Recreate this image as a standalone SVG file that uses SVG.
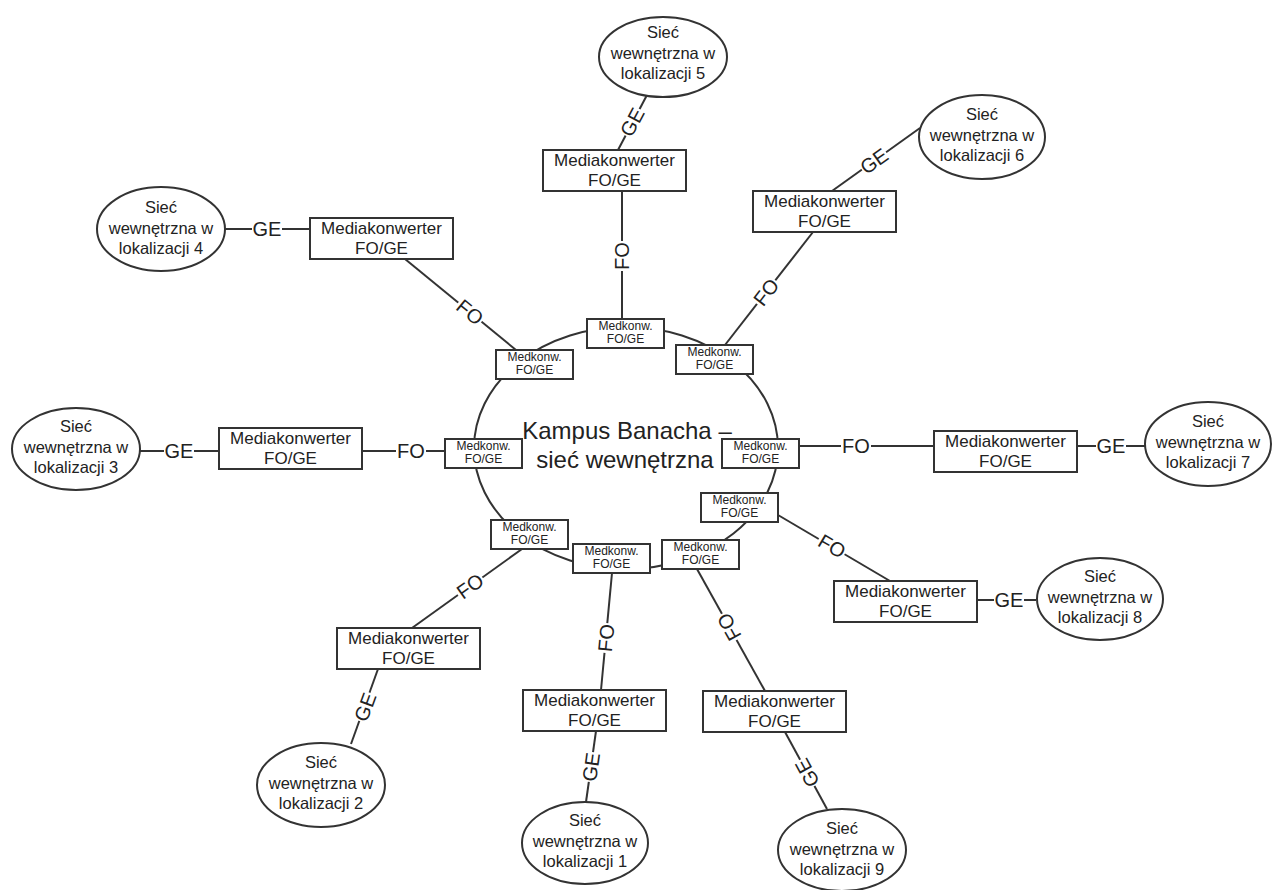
<svg xmlns="http://www.w3.org/2000/svg" width="1273" height="890" viewBox="0 0 1273 890">
<style>
.ln{stroke:#333;stroke-width:2;fill:none}
.box{fill:#fff;stroke:#333;stroke-width:2}
.ell{fill:#fff;stroke:#333;stroke-width:2}
.t{font-family:"Liberation Sans",Arial,sans-serif;fill:#222;text-anchor:middle}
.e{font-size:16.5px}
.m{font-size:17px}
.s{font-size:12px}
.c{font-size:24px}
.l{font-size:20px}
.bg{fill:#fff}
</style>
<rect width="1273" height="890" fill="#fff"/>

<g id="connectors">
<line class="ln" x1="225" y1="229" x2="310" y2="229"/>
<line class="ln" x1="405" y1="259" x2="516" y2="350"/>
<line class="ln" x1="140" y1="451" x2="219" y2="451"/>
<line class="ln" x1="362" y1="451" x2="445" y2="451"/>
<line class="ln" x1="622" y1="191" x2="622" y2="319"/>
<line class="ln" x1="647" y1="95" x2="618" y2="150"/>
<line class="ln" x1="832" y1="191" x2="920" y2="128"/>
<line class="ln" x1="813" y1="232" x2="725" y2="345"/>
<line class="ln" x1="800" y1="446" x2="934" y2="446"/>
<line class="ln" x1="1077" y1="446" x2="1145" y2="446"/>
<line class="ln" x1="778" y1="515" x2="890" y2="581"/>
<line class="ln" x1="977" y1="600" x2="1036" y2="600"/>
<line class="ln" x1="522" y1="549" x2="412" y2="628"/>
<line class="ln" x1="378" y1="669" x2="351" y2="744"/>
<line class="ln" x1="612" y1="573" x2="601" y2="690"/>
<line class="ln" x1="596" y1="731" x2="586" y2="802"/>
<line class="ln" x1="697" y1="569" x2="765" y2="691"/>
<line class="ln" x1="785" y1="732" x2="827" y2="809"/>
<g id="labels">
<g transform="translate(267,229)"><rect class="bg" x="-15" y="-6" width="30" height="12"/><text class="t l" y="7.2">GE</text></g>
<g transform="translate(470,312) rotate(39.5)"><rect class="bg" x="-15" y="-6" width="30" height="12"/><text class="t l" y="7.2">FO</text></g>
<g transform="translate(179,451)"><rect class="bg" x="-15" y="-6" width="30" height="12"/><text class="t l" y="7.2">GE</text></g>
<g transform="translate(411,451)"><rect class="bg" x="-15" y="-6" width="30" height="12"/><text class="t l" y="7.2">FO</text></g>
<g transform="translate(622,256) rotate(-90)"><rect class="bg" x="-15" y="-6" width="30" height="12"/><text class="t l" y="7.2">FO</text></g>
<g transform="translate(632,122) rotate(-62)"><rect class="bg" x="-15" y="-6" width="30" height="12"/><text class="t l" y="7.2">GE</text></g>
<g transform="translate(874,161) rotate(-35.6)"><rect class="bg" x="-15" y="-6" width="30" height="12"/><text class="t l" y="7.2">GE</text></g>
<g transform="translate(766,292) rotate(-52.6)"><rect class="bg" x="-15" y="-6" width="30" height="12"/><text class="t l" y="7.2">FO</text></g>
<g transform="translate(856,446)"><rect class="bg" x="-15" y="-6" width="30" height="12"/><text class="t l" y="7.2">FO</text></g>
<g transform="translate(1111,446)"><rect class="bg" x="-15" y="-6" width="30" height="12"/><text class="t l" y="7.2">GE</text></g>
<g transform="translate(832,546) rotate(30.5)"><rect class="bg" x="-15" y="-6" width="30" height="12"/><text class="t l" y="7.2">FO</text></g>
<g transform="translate(1009,600)"><rect class="bg" x="-15" y="-6" width="30" height="12"/><text class="t l" y="7.2">GE</text></g>
<g transform="translate(470,586) rotate(-35.7)"><rect class="bg" x="-15" y="-6" width="30" height="12"/><text class="t l" y="7.2">FO</text></g>
<g transform="translate(365,707) rotate(-70)"><rect class="bg" x="-15" y="-6" width="30" height="12"/><text class="t l" y="7.2">GE</text></g>
<g transform="translate(606,638) rotate(-84.6)"><rect class="bg" x="-15" y="-6" width="30" height="12"/><text class="t l" y="7.2">FO</text></g>
<g transform="translate(591,767) rotate(-82)"><rect class="bg" x="-15" y="-6" width="30" height="12"/><text class="t l" y="7.2">GE</text></g>
<g transform="translate(729,627) rotate(-119)"><rect class="bg" x="-15" y="-6" width="30" height="12"/><text class="t l" y="7.2">FO</text></g>
<g transform="translate(807,773) rotate(-118.6)"><rect class="bg" x="-15" y="-6" width="30" height="12"/><text class="t l" y="7.2">GE</text></g>
</g>
</g>

<g id="campus">
<ellipse class="ln" cx="626" cy="448" rx="152" ry="121"/>
<text class="t c" x="627" y="439">Kampus Banacha –</text>
<text class="t c" x="625" y="468">sieć wewnętrzna</text>
</g>

<g id="sb1"><rect class="box" x="587" y="319" width="77" height="29"/><text class="t s" x="625.5" y="330">Medkonw.</text><text class="t s" x="625.5" y="343">FO/GE</text></g>
<g id="sb2"><rect class="box" x="496" y="350" width="77" height="29"/><text class="t s" x="534.5" y="361">Medkonw.</text><text class="t s" x="534.5" y="374">FO/GE</text></g>
<g id="sb3"><rect class="box" x="676" y="345" width="77" height="29"/><text class="t s" x="714.5" y="356">Medkonw.</text><text class="t s" x="714.5" y="369">FO/GE</text></g>
<g id="sb4"><rect class="box" x="445" y="439" width="77" height="29"/><text class="t s" x="483.5" y="450">Medkonw.</text><text class="t s" x="483.5" y="463">FO/GE</text></g>
<g id="sb5"><rect class="box" x="722" y="439" width="77" height="29"/><text class="t s" x="760.5" y="450">Medkonw.</text><text class="t s" x="760.5" y="463">FO/GE</text></g>
<g id="sb6"><rect class="box" x="701" y="493" width="77" height="29"/><text class="t s" x="739.5" y="504">Medkonw.</text><text class="t s" x="739.5" y="517">FO/GE</text></g>
<g id="sb7"><rect class="box" x="491" y="520" width="77" height="29"/><text class="t s" x="529.5" y="531">Medkonw.</text><text class="t s" x="529.5" y="544">FO/GE</text></g>
<g id="sb8"><rect class="box" x="573" y="544" width="77" height="29"/><text class="t s" x="611.5" y="555">Medkonw.</text><text class="t s" x="611.5" y="568">FO/GE</text></g>
<g id="sb9"><rect class="box" x="662" y="540" width="77" height="29"/><text class="t s" x="700.5" y="551">Medkonw.</text><text class="t s" x="700.5" y="564">FO/GE</text></g>

<g id="mk5"><rect class="box" x="543" y="150" width="143" height="41"/><text class="t m" x="614.5" y="165.5">Mediakonwerter</text><text class="t m" x="614.5" y="185.5">FO/GE</text></g>
<g id="mk6"><rect class="box" x="753" y="191" width="143" height="41"/><text class="t m" x="824.5" y="206.5">Mediakonwerter</text><text class="t m" x="824.5" y="226.5">FO/GE</text></g>
<g id="mk4"><rect class="box" x="310" y="218" width="143" height="41"/><text class="t m" x="381.5" y="233.5">Mediakonwerter</text><text class="t m" x="381.5" y="253.5">FO/GE</text></g>
<g id="mk3"><rect class="box" x="219" y="428" width="143" height="41"/><text class="t m" x="290.5" y="443.5">Mediakonwerter</text><text class="t m" x="290.5" y="463.5">FO/GE</text></g>
<g id="mk7"><rect class="box" x="934" y="431" width="143" height="41"/><text class="t m" x="1005.5" y="446.5">Mediakonwerter</text><text class="t m" x="1005.5" y="466.5">FO/GE</text></g>
<g id="mk8"><rect class="box" x="834" y="581" width="143" height="41"/><text class="t m" x="905.5" y="596.5">Mediakonwerter</text><text class="t m" x="905.5" y="616.5">FO/GE</text></g>
<g id="mk2"><rect class="box" x="337" y="628" width="143" height="41"/><text class="t m" x="408.5" y="643.5">Mediakonwerter</text><text class="t m" x="408.5" y="663.5">FO/GE</text></g>
<g id="mk1"><rect class="box" x="523" y="690" width="143" height="41"/><text class="t m" x="594.5" y="705.5">Mediakonwerter</text><text class="t m" x="594.5" y="725.5">FO/GE</text></g>
<g id="mk9"><rect class="box" x="703" y="691" width="143" height="41"/><text class="t m" x="774.5" y="706.5">Mediakonwerter</text><text class="t m" x="774.5" y="726.5">FO/GE</text></g>

<g id="e5"><ellipse class="ell" cx="663" cy="57" rx="64" ry="40"/><text class="t e" x="663" y="38">Sieć</text><text class="t e" x="663" y="58.5">wewnętrzna w</text><text class="t e" x="663" y="79">lokalizacji 5</text></g>
<g id="e6"><ellipse class="ell" cx="982" cy="137" rx="63" ry="42"/><text class="t e" x="982" y="120">Sieć</text><text class="t e" x="982" y="140.5">wewnętrzna w</text><text class="t e" x="982" y="161">lokalizacji 6</text></g>
<g id="e4"><ellipse class="ell" cx="161" cy="229" rx="64" ry="42"/><text class="t e" x="161" y="213">Sieć</text><text class="t e" x="161" y="233.5">wewnętrzna w</text><text class="t e" x="161" y="254">lokalizacji 4</text></g>
<g id="e3"><ellipse class="ell" cx="76" cy="449" rx="64" ry="41"/><text class="t e" x="76" y="432">Sieć</text><text class="t e" x="76" y="452.5">wewnętrzna w</text><text class="t e" x="76" y="473">lokalizacji 3</text></g>
<g id="e7"><ellipse class="ell" cx="1208" cy="444" rx="63" ry="42"/><text class="t e" x="1208" y="427">Sieć</text><text class="t e" x="1208" y="447.5">wewnętrzna w</text><text class="t e" x="1208" y="468">lokalizacji 7</text></g>
<g id="e8"><ellipse class="ell" cx="1100" cy="599" rx="63" ry="41"/><text class="t e" x="1100" y="582">Sieć</text><text class="t e" x="1100" y="602.5">wewnętrzna w</text><text class="t e" x="1100" y="623">lokalizacji 8</text></g>
<g id="e2"><ellipse class="ell" cx="321" cy="785" rx="64" ry="42"/><text class="t e" x="321" y="768">Sieć</text><text class="t e" x="321" y="788.5">wewnętrzna w</text><text class="t e" x="321" y="809">lokalizacji 2</text></g>
<g id="e1"><ellipse class="ell" cx="585" cy="843" rx="63" ry="41"/><text class="t e" x="585" y="826">Sieć</text><text class="t e" x="585" y="846.5">wewnętrzna w</text><text class="t e" x="585" y="867">lokalizacji 1</text></g>
<g id="e9"><ellipse class="ell" cx="842" cy="850" rx="64" ry="41"/><text class="t e" x="842" y="834">Sieć</text><text class="t e" x="842" y="854.5">wewnętrzna w</text><text class="t e" x="842" y="875">lokalizacji 9</text></g>
</svg>
